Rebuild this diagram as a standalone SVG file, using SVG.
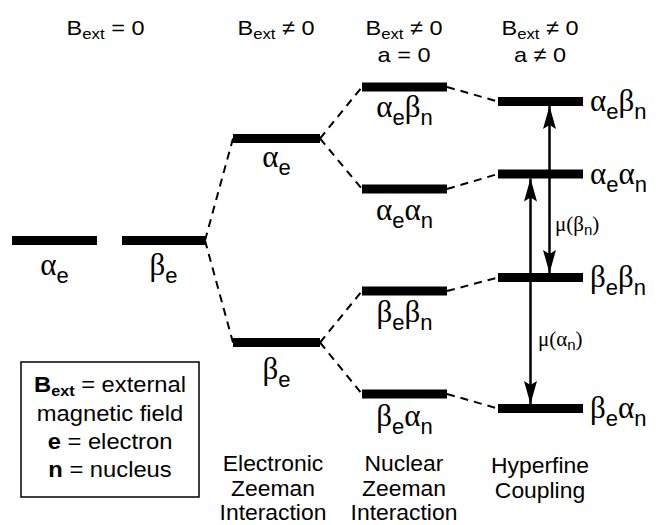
<svg xmlns="http://www.w3.org/2000/svg" width="658" height="525" viewBox="0 0 658 525">
<defs>
<style>
.bar{fill:#000}
.dash{stroke:#000;stroke-width:2;stroke-dasharray:8 6;fill:none}
.arr{stroke:#000;stroke-width:2.5;fill:none;marker-start:url(#ah);marker-end:url(#ah)}
.g{font-family:"Liberation Serif","DejaVu Serif",serif;font-size:31px;fill:#000}
.s{font-family:"Liberation Sans",Arial,sans-serif;font-size:22px}
.h{font-family:"Liberation Sans",Arial,sans-serif;font-size:21px;fill:#000;text-anchor:middle}
.hs{font-size:15px}
.c{font-family:"Liberation Sans",Arial,sans-serif;font-size:22px;fill:#000;text-anchor:middle}
.m{font-family:"Liberation Serif","DejaVu Serif",serif;font-size:21px;fill:#000}
.ms{font-family:"Liberation Sans",Arial,sans-serif;font-size:15px}
.mid{text-anchor:middle}
.b{font-weight:bold}
</style>
<marker id="ah" viewBox="-24 -8 26 16" refX="0" refY="0" markerWidth="26" markerHeight="16" markerUnits="userSpaceOnUse" orient="auto-start-reverse">
<path d="M0,0 L-23,-6.5 L-19,0 L-23,6.5 Z" fill="#000"/>
</marker>
</defs>
<rect width="658" height="525" fill="#fff"/>

<g id="headers">
<text class="h" transform="translate(105.5,35) scale(1.12,1)" x="0">B<tspan class="hs" dy="4">ext</tspan><tspan dy="-4"> = 0</tspan></text>
<text class="h" transform="translate(276,35) scale(1.12,1)" x="0">B<tspan class="hs" dy="4">ext</tspan><tspan dy="-4"> ≠ 0</tspan></text>
<text class="h" transform="translate(404,35) scale(1.12,1)" x="0">B<tspan class="hs" dy="4">ext</tspan><tspan dy="-4"> ≠ 0</tspan></text>
<text class="h" transform="translate(404,62) scale(1.12,1)" x="0">a = 0</text>
<text class="h" transform="translate(540,35) scale(1.12,1)" x="0">B<tspan class="hs" dy="4">ext</tspan><tspan dy="-4"> ≠ 0</tspan></text>
<text class="h" transform="translate(540,62) scale(1.12,1)" x="0">a ≠ 0</text>
</g>

<g id="connectors">
<line class="dash" x1="205" y1="240.5" x2="233" y2="138.5"/>
<line class="dash" x1="205" y1="240.5" x2="233" y2="342.5"/>
<line class="dash" x1="320" y1="138.5" x2="362" y2="87"/>
<line class="dash" x1="320" y1="138.5" x2="362" y2="189"/>
<line class="dash" x1="320" y1="342.5" x2="362" y2="291"/>
<line class="dash" x1="320" y1="342.5" x2="362" y2="394"/>
<line class="dash" x1="447" y1="87" x2="498" y2="101.5"/>
<line class="dash" x1="447" y1="189" x2="498" y2="174"/>
<line class="dash" x1="447" y1="291" x2="498" y2="277.5"/>
<line class="dash" x1="447" y1="394" x2="498" y2="408.5"/>
<line class="arr" x1="549.5" y1="106" x2="549.5" y2="273"/>
<line class="arr" x1="530.5" y1="178.5" x2="530.5" y2="404"/>
<text class="m" x="555" y="231">μ(β<tspan class="ms" dy="4">n</tspan><tspan dy="-4">)</tspan></text>
<text class="m" x="538" y="346">μ(α<tspan class="ms" dy="4">n</tspan><tspan dy="-4">)</tspan></text>
</g>

<g id="b0-alpha">
<rect class="bar" x="12" y="236" width="85" height="9"/>
<text class="g mid" x="54.5" y="275">α<tspan class="s" dy="8">e</tspan></text>
</g>
<g id="b0-beta">
<rect class="bar" x="122" y="236" width="83" height="9"/>
<text class="g mid" x="163.5" y="275">β<tspan class="s" dy="8">e</tspan></text>
</g>

<g id="ez-alpha">
<rect class="bar" x="233" y="134" width="87" height="9"/>
<text class="g mid" x="276.5" y="167">α<tspan class="s" dy="8">e</tspan></text>
</g>
<g id="ez-beta">
<rect class="bar" x="233" y="338" width="87" height="9"/>
<text class="g mid" x="276.5" y="379">β<tspan class="s" dy="8">e</tspan></text>
</g>

<g id="nz-ab">
<rect class="bar" x="362" y="82.5" width="85" height="9"/>
<text class="g mid" x="404.5" y="117">α<tspan class="s" dy="8">e</tspan><tspan dy="-8">β</tspan><tspan class="s" dy="8">n</tspan></text>
</g>
<g id="nz-aa">
<rect class="bar" x="362" y="184.5" width="85" height="9"/>
<text class="g mid" x="404.5" y="220">α<tspan class="s" dy="8">e</tspan><tspan dy="-8">α</tspan><tspan class="s" dy="8">n</tspan></text>
</g>
<g id="nz-bb">
<rect class="bar" x="362" y="286.5" width="85" height="9"/>
<text class="g mid" x="404.5" y="322">β<tspan class="s" dy="8">e</tspan><tspan dy="-8">β</tspan><tspan class="s" dy="8">n</tspan></text>
</g>
<g id="nz-ba">
<rect class="bar" x="362" y="389.5" width="85" height="9"/>
<text class="g mid" x="404.5" y="426">β<tspan class="s" dy="8">e</tspan><tspan dy="-8">α</tspan><tspan class="s" dy="8">n</tspan></text>
</g>

<g id="hf-ab">
<rect class="bar" x="498" y="97" width="85" height="9"/>
<text class="g" x="590" y="111">α<tspan class="s" dy="8">e</tspan><tspan dy="-8">β</tspan><tspan class="s" dy="8">n</tspan></text>
</g>
<g id="hf-aa">
<rect class="bar" x="498" y="169.5" width="85" height="9"/>
<text class="g" x="590" y="183.5">α<tspan class="s" dy="8">e</tspan><tspan dy="-8">α</tspan><tspan class="s" dy="8">n</tspan></text>
</g>
<g id="hf-bb">
<rect class="bar" x="498" y="273" width="85" height="9"/>
<text class="g" x="590" y="287">β<tspan class="s" dy="8">e</tspan><tspan dy="-8">β</tspan><tspan class="s" dy="8">n</tspan></text>
</g>
<g id="hf-ba">
<rect class="bar" x="498" y="404" width="85" height="9"/>
<text class="g" x="590" y="418">β<tspan class="s" dy="8">e</tspan><tspan dy="-8">α</tspan><tspan class="s" dy="8">n</tspan></text>
</g>

<g id="legend">
<rect x="21" y="362" width="178" height="135" fill="none" stroke="#000" stroke-width="1.5"/>
<text class="c" transform="translate(110,392) scale(1.08,1)" x="0"><tspan class="b">B</tspan><tspan class="b" font-size="15" dy="4">ext</tspan><tspan dy="-4"> = external</tspan></text>
<text class="c" transform="translate(110,420.5) scale(1.08,1)" x="0">magnetic field</text>
<text class="c" transform="translate(110,448.5) scale(1.08,1)" x="0"><tspan class="b">e</tspan> = electron</text>
<text class="c" transform="translate(110,477) scale(1.08,1)" x="0"><tspan class="b">n</tspan> = nucleus</text>
</g>

<g id="captions">
<text class="c" transform="translate(273,471) scale(1.04,1)" x="0">Electronic</text>
<text class="c" transform="translate(273,495.5) scale(1.04,1)" x="0">Zeeman</text>
<text class="c" transform="translate(273,520) scale(1.04,1)" x="0">Interaction</text>
<text class="c" transform="translate(404,471) scale(1.04,1)" x="0">Nuclear</text>
<text class="c" transform="translate(404,495.5) scale(1.04,1)" x="0">Zeeman</text>
<text class="c" transform="translate(404,520) scale(1.04,1)" x="0">Interaction</text>
<text class="c" transform="translate(540,473) scale(1.04,1)" x="0">Hyperfine</text>
<text class="c" transform="translate(540,498) scale(1.04,1)" x="0">Coupling</text>
</g>
</svg>
